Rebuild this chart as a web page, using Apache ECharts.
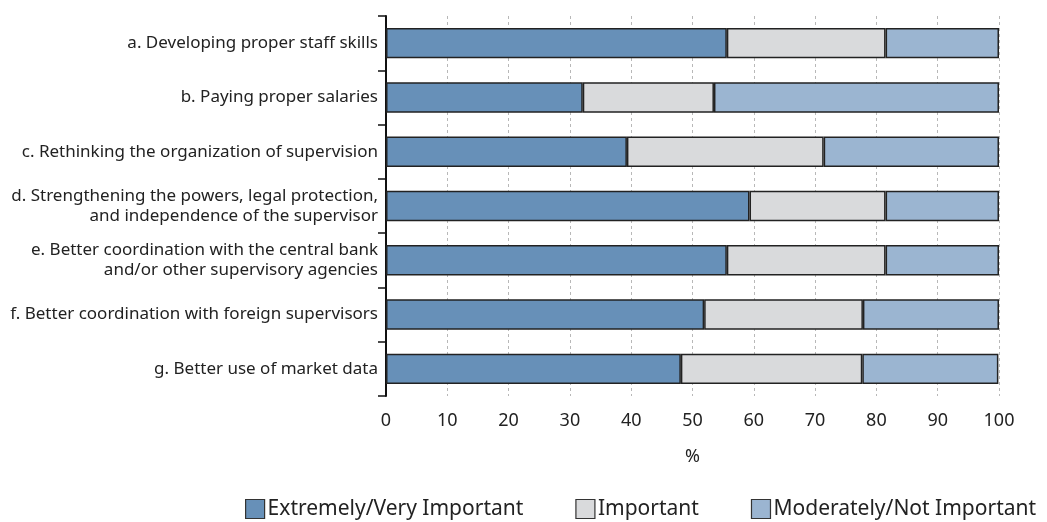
<!DOCTYPE html>
<html><head><meta charset="utf-8">
<script src="https://cdn.jsdelivr.net/npm/echarts@6/dist/echarts.min.js"></script>
<style>html,body{margin:0;padding:0;background:#fff}#c{width:1047px;height:522px}</style>
</head><body><div id="c"></div>
<script>
var categories = [
  "a. Developing proper staff skills",
  "b. Paying proper salaries",
  "c. Rethinking the organization of supervision",
  "d. Strengthening the powers, legal protection,\nand independence of the supervisor",
  "e. Better coordination with the central bank\nand/or other supervisory agencies",
  "f. Better coordination with foreign supervisors",
  "g. Better use of market data"
];
var extremelyVery = [55.6, 32.1, 39.3, 59.3, 55.6, 51.9, 48.1];
var important = [25.9, 21.4, 32.1, 22.2, 25.9, 25.9, 29.6];
var moderatelyNot = [18.5, 46.5, 28.6, 18.5, 18.5, 22.2, 22.2];
var xTicks = [0,10,20,30,40,50,60,70,80,90,100];
var seriesNames = ["Extremely/Very Important", "Important", "Moderately/Not Important"];
var colors = ["#6790b8", "#d9dadc", "#9bb5d1"];

var font = "Noto Sans";
var chart = echarts.init(document.getElementById('c'), null, {renderer: 'canvas'});
var data = [extremelyVery, important, moderatelyNot];
chart.setOption({
  animation: false,
  textStyle: {fontFamily: font},
  grid: {left: 386, right: 48, top: 16, bottom: 126},
  legend: {
    top: 493, left: 240, icon: 'rect',
    itemWidth: 19, itemHeight: 19, itemGap: 52,
    textStyle: {fontSize: 21, lineHeight: 22, color: '#222', fontFamily: font, padding: [0,0,0,-2]},
    itemStyle: {borderColor: '#333', borderWidth: 1.2},
    data: seriesNames
  },
  xAxis: {
    type: 'value', min: 0, max: 100, interval: 10,
    axisLine: {show: false}, axisTick: {show: false},
    splitLine: {show: true, lineStyle: {type: [3, 3], color: '#b8b8b8', width: 1}},
    axisLabel: {fontSize: 18, color: '#222', margin: 16,
      formatter: function(v){ return xTicks.indexOf(v) >= 0 ? String(v) : ''; }},
    name: '%', nameLocation: 'middle', nameGap: 52,
    nameTextStyle: {fontSize: 18, color: '#222'}
  },
  yAxis: {
    type: 'category', inverse: true, data: categories,
    axisLine: {show: true, lineStyle: {color: '#111', width: 2}},
    axisTick: {show: true, length: 8, lineStyle: {color: '#111', width: 1.5}},
    axisLabel: {fontSize: 17, color: '#222', margin: 8, lineHeight: 20, align: 'right'}
  },
  series: data.map(function(d, i){
    return {
      name: seriesNames[i], type: 'bar', stack: 'total', data: d,
      barWidth: '56%',
      itemStyle: {color: colors[i], borderColor: '#222', borderWidth: 1.5}
    };
  })
});
</script></body></html>
